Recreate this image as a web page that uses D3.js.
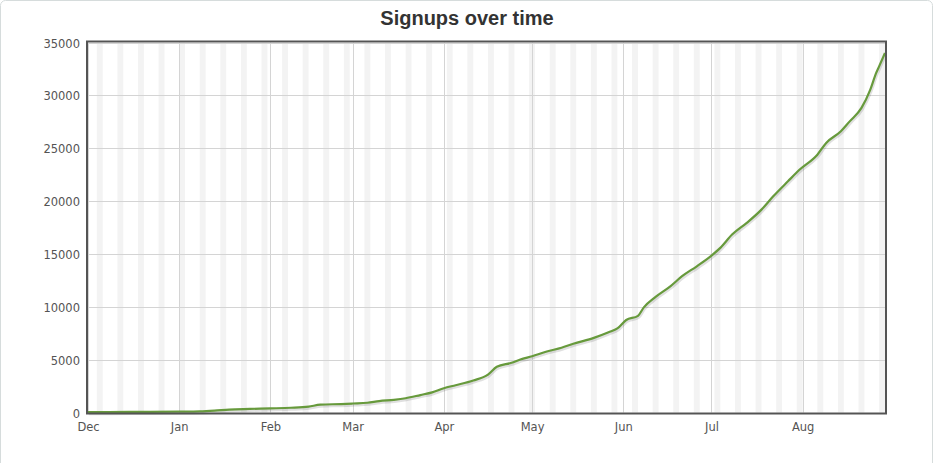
<!DOCTYPE html>
<html>
<head>
<meta charset="utf-8">
<script src="https://cdn.jsdelivr.net/npm/d3@7"></script>
<style>
  html, body { margin: 0; padding: 0; background: #fff; }
  svg { display: block; }
</style>
</head>
<body>
<svg id="chart" width="933" height="463"></svg>
<script>
// ---- data ----
const title = "Signups over time";
const dates = [
  "2010-12-01","2010-12-15","2011-01-01","2011-01-08","2011-01-13","2011-01-18","2011-01-25",
  "2011-02-01","2011-02-08","2011-02-14","2011-02-18","2011-02-25","2011-03-01","2011-03-06",
  "2011-03-10","2011-03-15","2011-03-19","2011-03-24","2011-03-28","2011-04-01","2011-04-05",
  "2011-04-11","2011-04-16","2011-04-19","2011-04-24","2011-04-27","2011-05-01","2011-05-06",
  "2011-05-11","2011-05-15","2011-05-22","2011-05-27","2011-05-30","2011-06-02","2011-06-06",
  "2011-06-08","2011-06-12","2011-06-17","2011-06-21","2011-06-26","2011-07-01","2011-07-04",
  "2011-07-08","2011-07-13","2011-07-18","2011-07-22","2011-07-27","2011-07-31","2011-08-06",
  "2011-08-09","2011-08-14","2011-08-17","2011-08-21","2011-08-24","2011-08-26","2011-08-27",
  "2011-08-29"
];
const signups = [
  30, 50, 80, 110, 180, 280, 340,
  390, 450, 560, 740, 800, 850, 920,
  1080, 1200, 1350, 1650, 1900, 2300, 2580,
  3030, 3590, 4320, 4700, 5010, 5320, 5770,
  6120, 6500, 7060, 7590, 7950, 8750, 9150,
  9950, 10940, 11940, 12890, 13830, 14840, 15570,
  16830, 17940, 19190, 20450, 21870, 22980, 24390,
  25500, 26600, 27540, 28810, 30540, 32120, 32740,
  34010
];
const yTicks = [0, 5000, 10000, 15000, 20000, 25000, 30000, 35000];
const monthStarts = ["2010-12-01","2011-01-01","2011-02-01","2011-03-01","2011-04-01","2011-05-01","2011-06-01","2011-07-01","2011-08-01"];
const monthLabels = ["Dec","Jan","Feb","Mar","Apr","May","Jun","Jul","Aug"];
const xDomain = ["2010-12-01","2011-08-29"];

(function () {
// ---- layout ----
const parse = d3.utcParse("%Y-%m-%d");
const pL = 88, pR = 885, pT = 42.5, pB = 412.5;
const svg = d3.select("#chart");

const x = d3.scaleUtc().domain(xDomain.map(parse)).range([pL, pR]);
const y = d3.scaleLinear().domain([0, 35000]).range([pB, pT]);

const data = dates.map((d, i) => ({ date: parse(d), value: signups[i] }));

// outer faint rounded border
svg.append("rect")
  .attr("x", 0.5).attr("y", 0.5).attr("width", 932).attr("height", 520)
  .attr("rx", 5).attr("fill", "none").attr("stroke", "#d6dcdc");

// title
svg.append("text")
  .attr("x", 467).attr("y", 25)
  .attr("text-anchor", "middle")
  .style("font-family", "'Liberation Sans', Arial, sans-serif")
  .style("font-weight", "bold").style("font-size", "20px")
  .attr("fill", "#333")
  .text(title);

// weekend bands (Saturday 00:00 to Monday 00:00)
const saturdays = d3.utcSaturday.range(d3.utcDay.offset(x.domain()[0], -2), x.domain()[1]);
svg.append("g").selectAll("rect").data(saturdays).join("rect")
  .attr("x", d => Math.max(pL, x(d)))
  .attr("width", d => Math.max(0, Math.min(pR, x(d3.utcDay.offset(d, 2))) - Math.max(pL, x(d))))
  .attr("y", pT).attr("height", pB - pT)
  .attr("fill", "#f3f3f3");

// grid
const grid = svg.append("g").attr("stroke", "#d4d4d4").attr("stroke-width", 1);
grid.selectAll(".hg").data(yTicks).join("line")
  .attr("x1", pL).attr("x2", pR)
  .attr("y1", d => Math.round(y(d)) + 0.5).attr("y2", d => Math.round(y(d)) + 0.5);
grid.selectAll(".vg").data(monthStarts.map(parse)).join("line")
  .attr("y1", pT).attr("y2", pB)
  .attr("x1", d => Math.round(x(d)) + 0.5).attr("x2", d => Math.round(x(d)) + 0.5);

// line + shadow
const line = d3.line().x(d => x(d.date)).y(d => y(d.value)).curve(d3.curveMonotoneX);
svg.append("path").datum(data)
  .attr("d", line).attr("fill", "none")
  .attr("transform", "translate(0.8,1.6)")
  .attr("stroke", "rgba(0,0,0,0.12)").attr("stroke-width", 3);
svg.append("path").datum(data)
  .attr("d", line).attr("fill", "none")
  .attr("stroke", "#679a3c").attr("stroke-width", 2.2)
  .attr("stroke-linejoin", "round");

// border
svg.append("rect")
  .attr("x", pL - 1).attr("y", pT - 1)
  .attr("width", pR - pL + 2).attr("height", pB - pT + 2)
  .attr("fill", "none").attr("stroke", "#545454").attr("stroke-width", 2);

// axes
const yAxis = d3.axisLeft(y).tickValues(yTicks).tickSize(0).tickPadding(7).tickFormat(d => String(d));
const gy = svg.append("g").attr("transform", `translate(${pL - 1},0)`).call(yAxis);
gy.select(".domain").remove();
gy.selectAll("text")
  .style("font-family", "'DejaVu Sans', Verdana, sans-serif").style("font-size", "11.5px")
  .attr("fill", "#545454").attr("dy", "0.4em");

const xAxis = d3.axisBottom(x).tickValues(monthStarts.map(parse)).tickSize(0).tickPadding(10)
  .tickFormat((d, i) => monthLabels[i]);
const gx = svg.append("g").attr("transform", `translate(0,${pB})`).call(xAxis);
gx.select(".domain").remove();
gx.selectAll("text")
  .style("font-family", "'DejaVu Sans', Verdana, sans-serif").style("font-size", "11.5px")
  .attr("fill", "#545454");
})();
</script>
</body>
</html>
